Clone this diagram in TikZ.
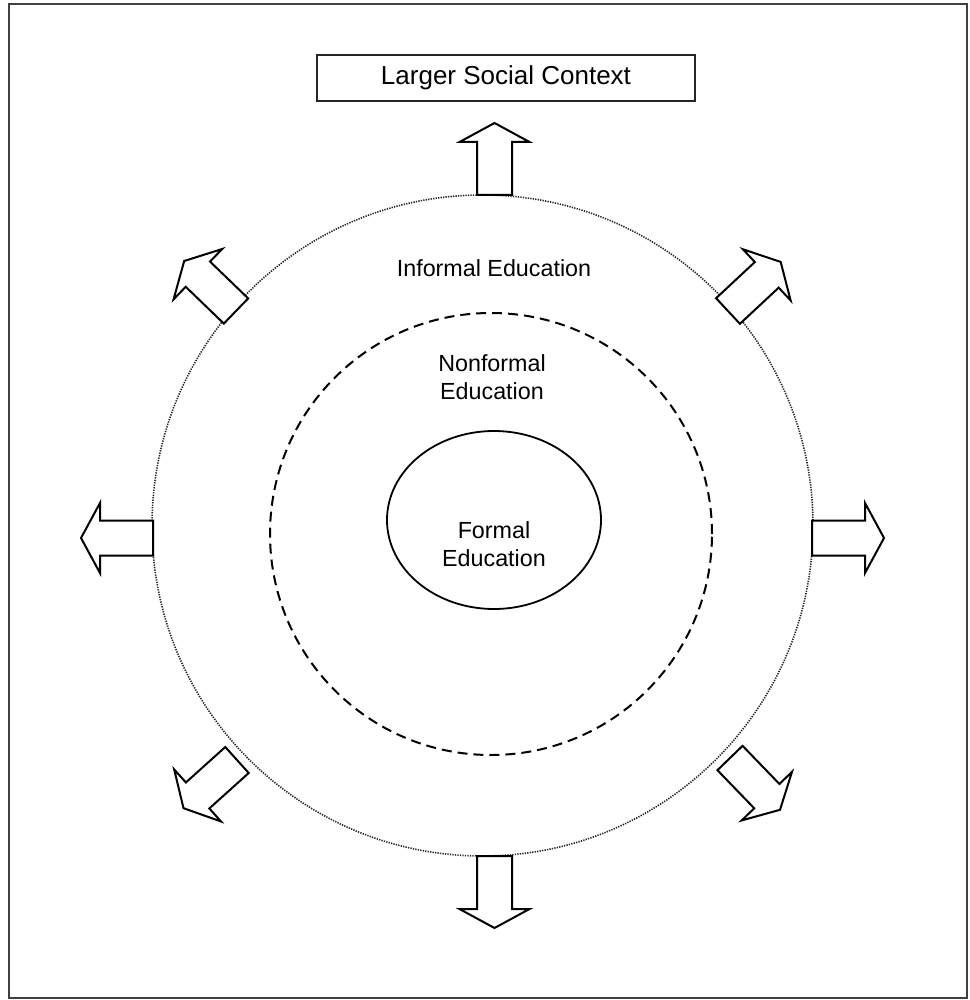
\documentclass[tikz,border=0pt]{standalone}
\usepackage{fontspec}
\setmainfont{Liberation Sans}
\begin{document}
\begin{tikzpicture}[x=1pt,y=-1pt,
  frameline/.style={draw=black!75,line width=2.4pt},
  ctxbox/.style={draw=black!85,line width=2pt,minimum width=378pt,minimum height=46pt,inner sep=0pt,font=\fontsize{26}{30}\selectfont},
  lbl/.style={align=center,inner sep=0pt,font=\fontsize{23.3}{27.5}\selectfont},
  outerring/.style={draw=black!85,line width=1.6pt,dash pattern=on 1.3pt off 1.2pt},
  midring/.style={draw=black,line width=2pt,dash pattern=on 10pt off 6pt},
  innerring/.style={draw=black,line width=1.8pt},
  bigarrow/.style={draw=black,line width=2pt,line join=miter,fill=white}
]
\useasboundingbox (0,0) rectangle (969,1000);
\draw[frameline] (9,4) rectangle (967,998);

\node[ctxbox] (ctx) at (506,78) {Larger Social Context};

\draw[outerring] (482.5,525.5) circle (330.5pt);
\draw[midring] (491,534) circle (221pt);
\draw[innerring] (494,520) ellipse (107pt and 89pt);

\node[lbl] (inf) at (494,268) {Informal Education};
\node[lbl] (nonf) at (492,377) {Nonformal\\Education};
\node[lbl] (form) at (494,544) {Formal\\Education};

\newcommand{\outarrow}[3]{%
  \begin{scope}[shift={(#1,#2)},rotate=#3]
    \draw[bigarrow] (0,-17.5) -- (53,-17.5) -- (53,-35) -- (72,0) -- (53,35) -- (53,17.5) -- (0,17.5) -- cycle;
  \end{scope}}
\outarrow{494.5}{195}{90}
\outarrow{494.5}{856}{-90}
\outarrow{153}{538}{180}
\outarrow{812}{538}{0}
\outarrow{236}{311}{136}
\outarrow{728}{311}{43}
\outarrow{237}{760}{-138}
\outarrow{730}{758}{-46}
\end{tikzpicture}
\end{document}
